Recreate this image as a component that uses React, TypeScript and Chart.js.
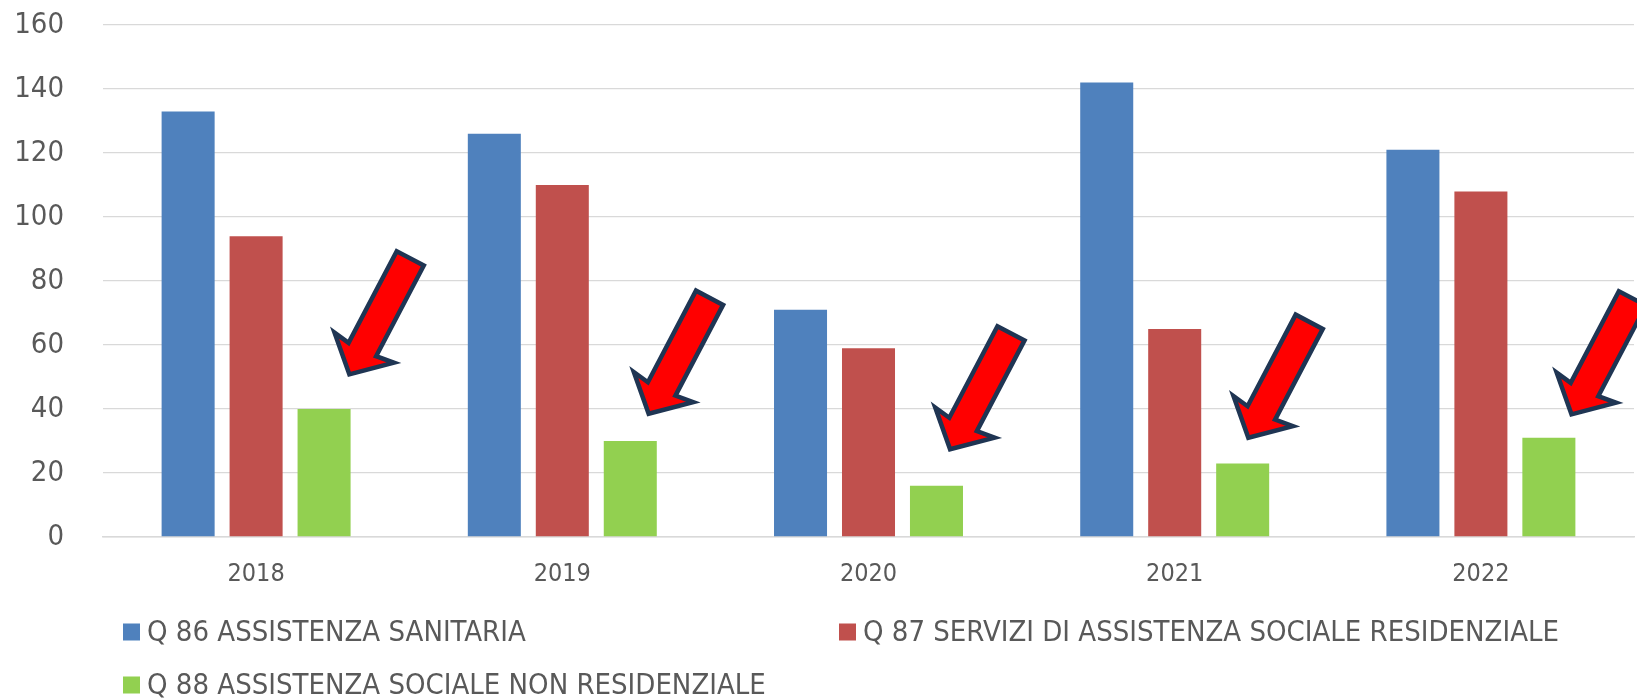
import React, { useEffect, useRef } from "react";
import { Chart, registerables } from "chart.js";

Chart.register(...registerables);

const CATEGORIES = ["2018", "2019", "2020", "2021", "2022"];
const SERIES_LABELS = [
  "Q 86 ASSISTENZA SANITARIA",
  "Q 87 SERVIZI DI ASSISTENZA SOCIALE RESIDENZIALE",
  "Q 88 ASSISTENZA SOCIALE NON RESIDENZIALE",
];
const Q86_VALUES = [133, 126, 71, 142, 121];
const Q87_VALUES = [94, 110, 59, 65, 108];
const Q88_VALUES = [40, 30, 16, 23, 31];
const Y_MAX = 160;
const Y_STEP = 20;

// Arrow annotations: tip height in data units, sideways shift as fraction of the green bar width
const ARROW_TIP_VALUES = [50, 37.7, 26.6, 30.2, 37.5];
const ARROW_SHIFT = [0.45, 0.32, 0.23, 0.08, 0.4];

const COLORS = ["#4F81BD", "#C0504D", "#92D050"];
const TEXT = "#595959";
const GRID = "#D9D9D9";
const FONT = "'DejaVu Sans Condensed', 'Liberation Sans Narrow', sans-serif";

const arrowPlugin = {
  id: "arrows",
  afterDatasetsDraw(chart: any) {
    const ctx = chart.ctx;
    const meta = chart.getDatasetMeta(2);
    const ys = chart.scales.y;
    const ux = 0.465, uy = -0.885; // tip -> tail
    const vx = 0.885, vy = 0.465;
    const shape = [
      [0, 0],
      [30, -32.5],
      [27.5, -15.3],
      [131, -15.3],
      [131, 15.3],
      [28.5, 15.3],
      [31, 34],
    ];
    meta.data.forEach((bar: any, i: number) => {
      const w = bar.width;
      const tx = bar.x + ARROW_SHIFT[i] * w + 3 * ux;
      const ty = ys.getPixelForValue(ARROW_TIP_VALUES[i]) + 3 * uy;
      ctx.save();
      ctx.beginPath();
      shape.forEach(([a, b], k) => {
        const px = tx + a * ux + b * vx;
        const py = ty + a * uy + b * vy;
        if (k === 0) ctx.moveTo(px, py);
        else ctx.lineTo(px, py);
      });
      ctx.closePath();
      ctx.fillStyle = "#FF0000";
      ctx.fill();
      ctx.lineWidth = 4.5;
      ctx.lineJoin = "miter";
      ctx.strokeStyle = "#1F3553";
      ctx.stroke();
      ctx.restore();
    });
  },
};

const legendPlugin = {
  id: "customLegend",
  afterDraw(chart: any) {
    const ctx = chart.ctx;
    const slots = [
      { x: 123, y: 632 },
      { x: 839, y: 632 },
      { x: 123, y: 685 },
    ];
    ctx.save();
    ctx.font = `29px ${FONT}`;
    ctx.textBaseline = "middle";
    ctx.textAlign = "left";
    chart.data.datasets.forEach((ds: any, i: number) => {
      const s = slots[i];
      ctx.fillStyle = ds.backgroundColor;
      ctx.fillRect(s.x, s.y - 8.5, 17, 17);
      ctx.fillStyle = TEXT;
      ctx.fillText(ds.label, s.x + 24, s.y + 1);
    });
    ctx.restore();
  },
};

export default function App() {
  const ref = useRef<HTMLCanvasElement>(null);
  useEffect(() => {
    document.body.style.margin = "0";
    const chart = new Chart(ref.current!, {
      type: "bar",
      data: {
        labels: CATEGORIES,
        datasets: [Q86_VALUES, Q87_VALUES, Q88_VALUES].map((d, i) => ({
          label: SERIES_LABELS[i],
          data: d,
          backgroundColor: COLORS[i],
          borderWidth: 0,
          categoryPercentage: 0.666,
          barPercentage: 0.78,
        })),
      },
      options: {
        animation: false,
        responsive: false,
        layout: { padding: { top: 25, right: 3, left: 0, bottom: 112 } },
        plugins: { legend: { display: false }, tooltip: { enabled: false } },
        scales: {
          x: {
            grid: { display: false, drawTicks: false },
            border: { display: true, color: GRID, width: 1.5 },
            ticks: { color: TEXT, font: { family: FONT, size: 25 }, padding: 22 },
            afterFit(scale: any) {
              scale.height = 50;
              scale.paddingLeft = 0;
              scale.paddingRight = 0;
            },
          },
          y: {
            min: 0,
            max: Y_MAX,
            grid: { color: GRID, lineWidth: 1.3, drawTicks: false },
            border: { display: false },
            ticks: { stepSize: Y_STEP, color: TEXT, font: { family: FONT, size: 29 }, padding: 39 },
            afterFit(scale: any) {
              scale.width = 103;
              scale.paddingTop = 0;
              scale.paddingBottom = 0;
            },
          },
        },
      },
      plugins: [arrowPlugin, legendPlugin],
    });
    return () => chart.destroy();
  }, []);
  return (
    <div style={{ width: 1637, height: 699, background: "#fff" }}>
      <canvas ref={ref} width={1637} height={699} />
    </div>
  );
}
